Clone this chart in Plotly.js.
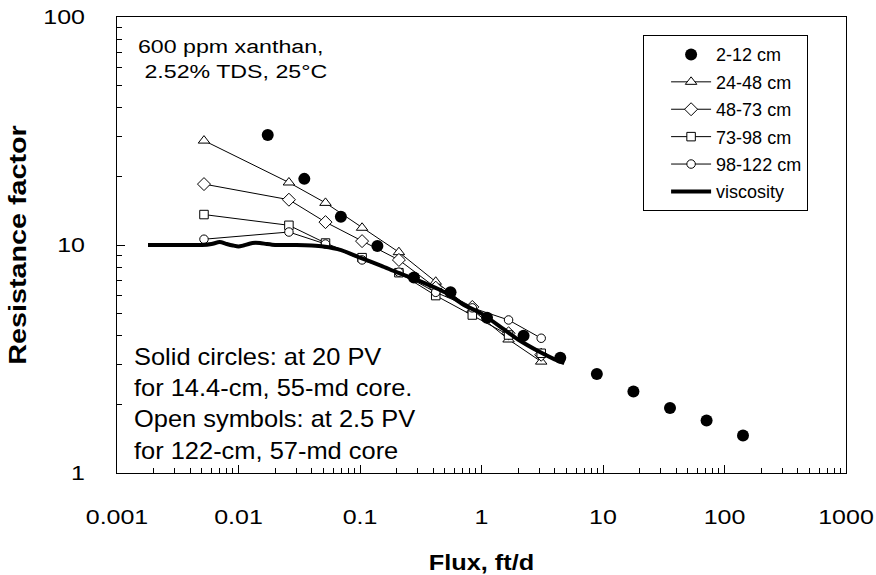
<!DOCTYPE html>
<html><head><meta charset="utf-8">
<script src="https://cdn.plot.ly/plotly-3.0.1.min.js"></script>
<style>html,body{margin:0;padding:0;background:#fff}#chart{width:876px;height:575px}</style>
</head><body><div id="chart"></div>
<script>
// Solid circles: 14.4-cm core at 20 PV
const fluxSolid = [0.0174, 0.0348, 0.0696, 0.139, 0.278, 0.556, 1.11, 2.22, 4.45, 8.9, 17.8, 35.6, 71.2, 142];
const rfSolid   = [30.4, 19.5, 13.3, 9.9, 7.2, 6.2, 4.8, 4.0, 3.2, 2.72, 2.28, 1.93, 1.70, 1.46];
// Open symbols: 122-cm core sections at 2.5 PV
const fluxOpen = [0.0052, 0.026, 0.052, 0.104, 0.209, 0.42, 0.84, 1.67, 3.1];
const rf24_48  = [28.7, 18.8, 15.3, 11.9, 9.3, 6.9, 5.2, 3.85, 3.08];
const rf48_73  = [18.5, 15.8, 12.6, 10.4, 8.6, 6.5, 5.35, 4.1, 3.3];
const rf73_98  = [13.6, 12.2, 10.2, 8.8, 7.56, 6.0, 4.93, 4.03, 3.35];
const rf98_122 = [10.6, 11.4, 10.1, 8.6, 7.6, 6.2, 5.3, 4.69, 3.90];
// Viscosity curve
const fluxVisc = [0.0018, 0.003, 0.005, 0.006, 0.007, 0.008, 0.009, 0.010, 0.011, 0.013, 0.015, 0.017, 0.02, 0.03, 0.04, 0.05, 0.07, 0.1, 0.15, 0.2, 0.3, 0.5, 0.7, 1.0, 1.5, 2.0, 3.0, 4.0, 4.8];
const rfVisc   = [10, 10, 10, 10.1, 10.3, 10.1, 9.95, 9.85, 9.95, 10.2, 10.2, 10.1, 10, 10, 9.95, 9.85, 9.5, 8.8, 8.1, 7.6, 7.0, 6.2, 5.5, 5.0, 4.3, 3.85, 3.4, 3.15, 3.03];
const seriesNames = ['2-12 cm', '24-48 cm', '48-73 cm', '73-98 cm', '98-122 cm', 'viscosity'];

const FONT = 'Liberation Sans, Arial, sans-serif';
const openMarker = (sym, sz) => ({symbol: sym, size: sz, color: '#ffffff', line: {color: '#000000', width: 1}});
const openLine = {color: '#000000', width: 1};

const traces = [
  {x: fluxSolid, y: rfSolid, name: seriesNames[0], legendgroup: 'a', mode: 'markers', type: 'scatter',
   marker: {symbol: 'circle', size: 12, color: '#000000'}},
  {x: fluxOpen, y: rf24_48, name: seriesNames[1], legendgroup: 'b', mode: 'lines+markers', type: 'scatter', line: openLine, marker: openMarker('triangle-up', 10)},
  {x: fluxOpen, y: rf48_73, name: seriesNames[2], legendgroup: 'c', mode: 'lines+markers', type: 'scatter', line: openLine, marker: openMarker('diamond', 10)},
  {x: fluxOpen, y: rf73_98, name: seriesNames[3], legendgroup: 'd', mode: 'lines+markers', type: 'scatter', line: openLine, marker: openMarker('square', 8.5)},
  {x: fluxOpen, y: rf98_122, name: seriesNames[4], legendgroup: 'e', mode: 'lines+markers', type: 'scatter', line: openLine, marker: openMarker('circle', 8.5)},
  {x: fluxVisc, y: rfVisc, name: seriesNames[5], legendgroup: 'f', mode: 'lines', type: 'scatter', line: {color: '#000000', width: 4, shape: 'spline', smoothing: 0.6}}
];

const layout = {
  width: 876, height: 575,
  margin: {l: 117, r: 30, t: 17, b: 102},
  paper_bgcolor: '#ffffff', plot_bgcolor: '#ffffff',
  font: {family: FONT, size: 18, color: '#000000'},
  showlegend: true,
  legend: {x: 0.948, xanchor: 'right', y: 0.96, yanchor: 'top', bgcolor: '#ffffff', bordercolor: '#000000', borderwidth: 1,
           font: {family: FONT, size: 18, color: '#000000'}, traceorder: 'grouped', tracegroupgap: 1,
           indentation: 22, itemwidth: 40},
  xaxis: {type: 'log', range: [-3, 3], dtick: 1, exponentformat: 'none', showgrid: false, zeroline: false, automargin: false,
          showline: true, linecolor: '#000000', linewidth: 1, mirror: true,
          ticks: 'inside', ticklen: 8, tickcolor: '#000000', tickwidth: 1,
          minor: {ticks: 'inside', ticklen: 5, dtick: 'D1', tickcolor: '#000000', showgrid: false},
          ticklabelstandoff: 26,
          tickfont: {family: FONT, size: 20, color: '#000000'},
          title: {text: '<b>Flux, ft/d</b>', font: {family: FONT, size: 22, color: '#000000'}, standoff: 27}},
  yaxis: {type: 'log', range: [0, 2], dtick: 1, exponentformat: 'none', showgrid: false, zeroline: false, automargin: false,
          showline: true, linecolor: '#000000', linewidth: 1, mirror: true,
          ticks: 'inside', ticklen: 8, tickcolor: '#000000', tickwidth: 1,
          minor: {ticks: 'inside', ticklen: 5, dtick: 'D1', tickcolor: '#000000', showgrid: false},
          ticklabelstandoff: 27,
          tickfont: {family: FONT, size: 20, color: '#000000'},
          title: {text: '<b>Resistance factor</b>', font: {family: FONT, size: 23, color: '#000000'}, standoff: 18}},
  annotations: [
    {xref: 'paper', yref: 'paper', x: 0.026, y: 0.962, xanchor: 'left', yanchor: 'top', align: 'left', showarrow: false,
     text: '600 ppm xanthan,<br>\u00A02.52% TDS, 25°C', font: {family: FONT, size: 19, color: '#000000'}},
    {xref: 'paper', yref: 'paper', x: 0.021, y: 0.015, xanchor: 'left', yanchor: 'bottom', align: 'left', showarrow: false,
     text: 'Solid circles: at 20 PV<br>for 14.4-cm, 55-md core.<br>Open symbols: at 2.5 PV<br>for 122-cm, 57-md core',
     font: {family: FONT, size: 24, color: '#000000'}}
  ]
};

// widen glyphs along the baseline, as in the original figure's lettering
function widen(el, s) {
  const bb = el.getBBox();
  const a = el.getAttribute('text-anchor') || 'start';
  const cx = a === 'middle' ? bb.x + bb.width / 2 : (a === 'end' ? bb.x + bb.width : bb.x);
  const tr = el.getAttribute('transform') || '';
  el.setAttribute('transform', tr + ' translate(' + cx + ' 0) scale(' + s + ' 1) translate(' + (-cx) + ' 0)');
}

const gd = document.getElementById('chart');
Plotly.newPlot(gd, traces, layout, {displayModeBar: false, staticPlot: true}).then(() => {
  gd.querySelectorAll('.xtick text, .ytick text').forEach(t => widen(t, 1.25));
  gd.querySelectorAll('.g-xtitle text').forEach(t => widen(t, 1.15));
  gd.querySelectorAll('.g-ytitle text').forEach(t => widen(t, 1.25));
  const ann = gd.querySelectorAll('.annotation-text');
  if (ann[0]) widen(ann[0], 1.22);
  if (ann[1]) widen(ann[1], 1.06);
});
</script></body></html>
